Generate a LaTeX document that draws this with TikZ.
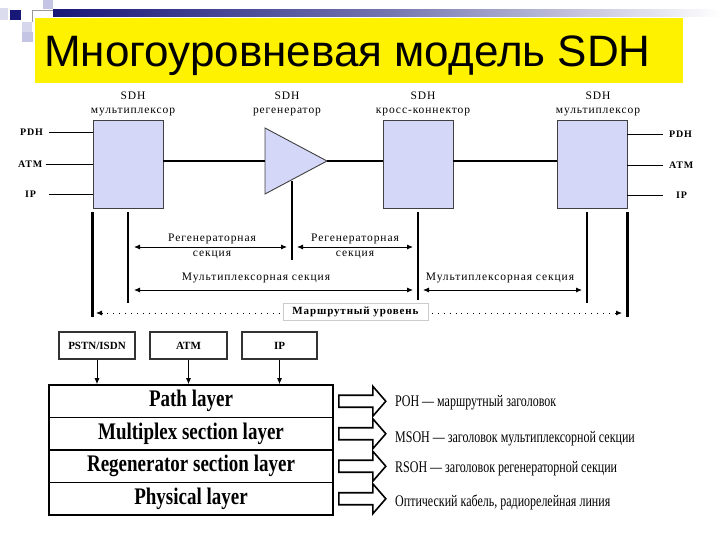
\documentclass[tikz,border=0pt]{standalone}
\usepackage{graphicx}
\usepackage{fontspec}
\setmainfont{Liberation Serif}
\newfontfamily\titlefont{Liberation Sans}
\newfontfamily\spacedfont[LetterSpace=8]{Liberation Serif}
\usetikzlibrary{arrows.meta,positioning}
\definecolor{sdhfill}{RGB}{212,215,248}
\definecolor{deconavy}{RGB}{24,24,120}
\definecolor{decolight}{RGB}{196,196,228}
\newcommand{\tallt}[1]{\scalebox{1}[1.25]{#1}}
\newcommand{\ohtxt}[1]{\scalebox{1}[1.35]{#1}}
\begin{document}
\begin{tikzpicture}[x=1pt,y=-1pt,
  sdhbox/.style={draw=black!75,fill=sdhfill,line width=0.9pt,minimum width=70pt,minimum height=88pt,inner sep=0pt},
  lbl/.style={font=\spacedfont\fontsize{11.5}{14}\selectfont,inner sep=0pt,align=center},
  iolbl/.style={font=\spacedfont\bfseries\fontsize{10}{12}\selectfont,inner sep=0pt,anchor=west},
  ioline/.style={line width=0.9pt},
  bus/.style={line width=1.6pt},
  vline/.style={line width=2.6pt},
  secarrow/.style={line width=0.9pt,{Latex[length=6pt,width=5pt]}-{Latex[length=6pt,width=5pt]}},
  routeline/.style={line width=0.9pt,dash pattern=on 0.9pt off 5pt,{Latex[length=6pt,width=5pt]}-{Latex[length=6pt,width=5pt]}},
  svcbox/.style={draw=black!80,line width=1.2pt,minimum height=27pt,inner sep=0pt,font=\bfseries\fontsize{11}{12}\selectfont},
  svcarrow/.style={line width=0.9pt,-{Latex[length=6pt,width=5pt]}},
  layer/.style={draw,line width=1.6pt,minimum width=284pt,minimum height=32.5pt,inner sep=0pt,font=\bfseries\fontsize{19}{20}\selectfont},
  blockarr/.style={draw,line width=1.6pt,fill=white},
  ohlbl/.style={anchor=west,inner sep=0pt,font=\fontsize{12}{14}\selectfont}]
\useasboundingbox (0,0) rectangle (720,540);

% header
\fill[decolight!60] (0,8) rectangle (8,20);
\fill[decolight] (43,0) rectangle (53,9);
\fill[decolight!70] (22,22) rectangle (32,32);
\fill[decolight] (22,32) rectangle (33,42);
\fill[deconavy] (10,10) rectangle (21,20);
\draw[black!40,line width=0.5pt] (32,22) -- (32,10) -- (53,10);
\shade[left color=deconavy,right color=white,middle color=deconavy!60] (53,10) rectangle (720,17);
\fill[yellow] (35,18) rectangle (683,83);
\node[anchor=base west,inner sep=0pt,font=\titlefont\fontsize{44}{50}\selectfont] (title) at (44,67) {Многоуровневая модель SDH};

% network elements
\node[sdhbox] (muxA) at (128,164) {};
\node[sdhbox] (oxc) at (418,164) {};
\node[sdhbox] (muxB) at (592,164) {};
\coordinate (regin) at (265,161);
\coordinate (regout) at (327,161);
\filldraw[fill=sdhfill,draw=black!75,line width=0.9pt] (265,128) -- (regout) -- (265,194) -- cycle;
\coordinate (regfoot) at (292,181);

\node[lbl] (muxAname) at (133,104) {SDH\\мультиплексор};
\node[lbl] (regname) at (287,104) {SDH\\регенератор};
\node[lbl] (oxcname) at (423,104) {SDH\\кросс-коннектор};
\node[lbl] (muxBname) at (598,104) {SDH\\мультиплексор};

\node[iolbl] (pdhA) at (20,132) {PDH};
\node[iolbl] (atmA) at (18,164) {ATM};
\node[iolbl] (ipA) at (25,194) {IP};
\draw[ioline] ([xshift=6pt]pdhA.east) -- (pdhA -| muxA.west);
\draw[ioline] ([xshift=3pt]atmA.east) -- (atmA -| muxA.west);
\draw[ioline] ([xshift=13pt]ipA.east) -- (ipA -| muxA.west);

\node[iolbl] (pdhB) at (669,134) {PDH};
\node[iolbl] (atmB) at (669,165) {ATM};
\node[iolbl] (ipB) at (676,195) {IP};
\draw[ioline] (pdhB -| muxB.east) -- ([xshift=-6pt]pdhB.west);
\draw[ioline] (atmB -| muxB.east) -- ([xshift=-6pt]atmB.west);
\draw[ioline] (ipB -| muxB.east) -- ([xshift=-13pt]ipB.west);

\draw[bus] (muxA.east |- regin) -- (regin);
\draw[bus] (regout) -- (oxc.west |- regout);
\draw[bus] (oxc.east |- regout) -- (muxB.west |- regout);

% section boundaries
\draw[vline] ([yshift=-4pt]muxA.south west) -- ++(0,105);
\draw[vline] ([yshift=-4pt]muxA.south) -- ++(0,91);
\draw[vline] (regfoot) -- ++(0,79);
\draw[vline] ([yshift=-4pt]oxc.south) -- ++(0,88);
\draw[vline] ([xshift=-5pt,yshift=-4pt]muxB.south) -- ++(0,91);
\draw[vline] ([yshift=-4pt]muxB.south east) -- ++(0,105);

\coordinate (rsAl) at (134,247); \coordinate (rsAr) at (287,247);
\coordinate (rsBl) at (297,247); \coordinate (rsBr) at (413,247);
\coordinate (msAl) at (134,290); \coordinate (msAr) at (413,290);
\coordinate (msBl) at (423,290); \coordinate (msBr) at (582,290);
\coordinate (rtl) at (96,313); \coordinate (rtr) at (622,313);
\draw[secarrow] (rsAl) -- (rsAr);
\draw[secarrow] (rsBl) -- (rsBr);
\draw[secarrow] (msAl) -- (msAr);
\draw[secarrow] (msBl) -- (msBr);
\node[lbl] (rsAtop) at (212,239) {Регенераторная};
\node[lbl] (rsAbot) at (212,255) {секция};
\node[lbl] (rsBtop) at (355,239) {Регенераторная};
\node[lbl] (rsBbot) at (355,255) {секция};
\node[lbl] (msAtop) at (256,278) {Мультиплексорная секция};
\node[lbl] (msBtop) at (500,278) {Мультиплексорная секция};
\draw[routeline] (rtl) -- (rtr);
\node[draw=black!20,fill=white,line width=0.8pt,minimum width=145pt,minimum height=17pt,inner sep=0pt,
  font=\spacedfont\bfseries\fontsize{11}{12}\selectfont] (route) at (355.5,311.5) {Маршрутный уровень};

% layer model
\node[svcbox,minimum width=76pt] (pstn) at (97,345.5) {PSTN/ISDN};
\node[svcbox,minimum width=77pt] (atm) at (188.5,345.5) {ATM};
\node[svcbox,minimum width=75pt] (ip) at (279.5,345.5) {IP};
\node[layer] (lpath) at (191,401.25) {\tallt{Path layer}};
\node[layer] (lmux) at (191,433.75) {\tallt{Multiplex section layer}};
\node[layer] (lregen) at (191,466.25) {\tallt{Regenerator section layer}};
\node[layer] (lphys) at (191,498.75) {\tallt{Physical layer}};
\draw[svcarrow] (pstn.south) -- (pstn.south |- lpath.north);
\draw[svcarrow] (atm.south) -- (atm.south |- lpath.north);
\draw[svcarrow] (ip.south) -- (ip.south |- lpath.north);

\foreach \l in {lpath,lmux,lregen,lphys}
  \draw[blockarr] ([xshift=5pt,yshift=6pt]\l.east) -- ++(34,0) -- ++(0,-9) -- ++(13,15)
    -- ++(-13,15) -- ++(0,-9) -- ++(-34,0) -- cycle;

\node[ohlbl] (poh) at (395,403) {\ohtxt{POH — маршрутный заголовок}};
\node[ohlbl] (msoh) at (395,439) {\ohtxt{MSOH — заголовок мультиплексорной секции}};
\node[ohlbl] (rsoh) at (395,469) {\ohtxt{RSOH — заголовок регенераторной секции}};
\node[ohlbl] (phy) at (395,502) {\ohtxt{Оптический кабель, радиорелейная линия}};
\end{tikzpicture}
\end{document}
